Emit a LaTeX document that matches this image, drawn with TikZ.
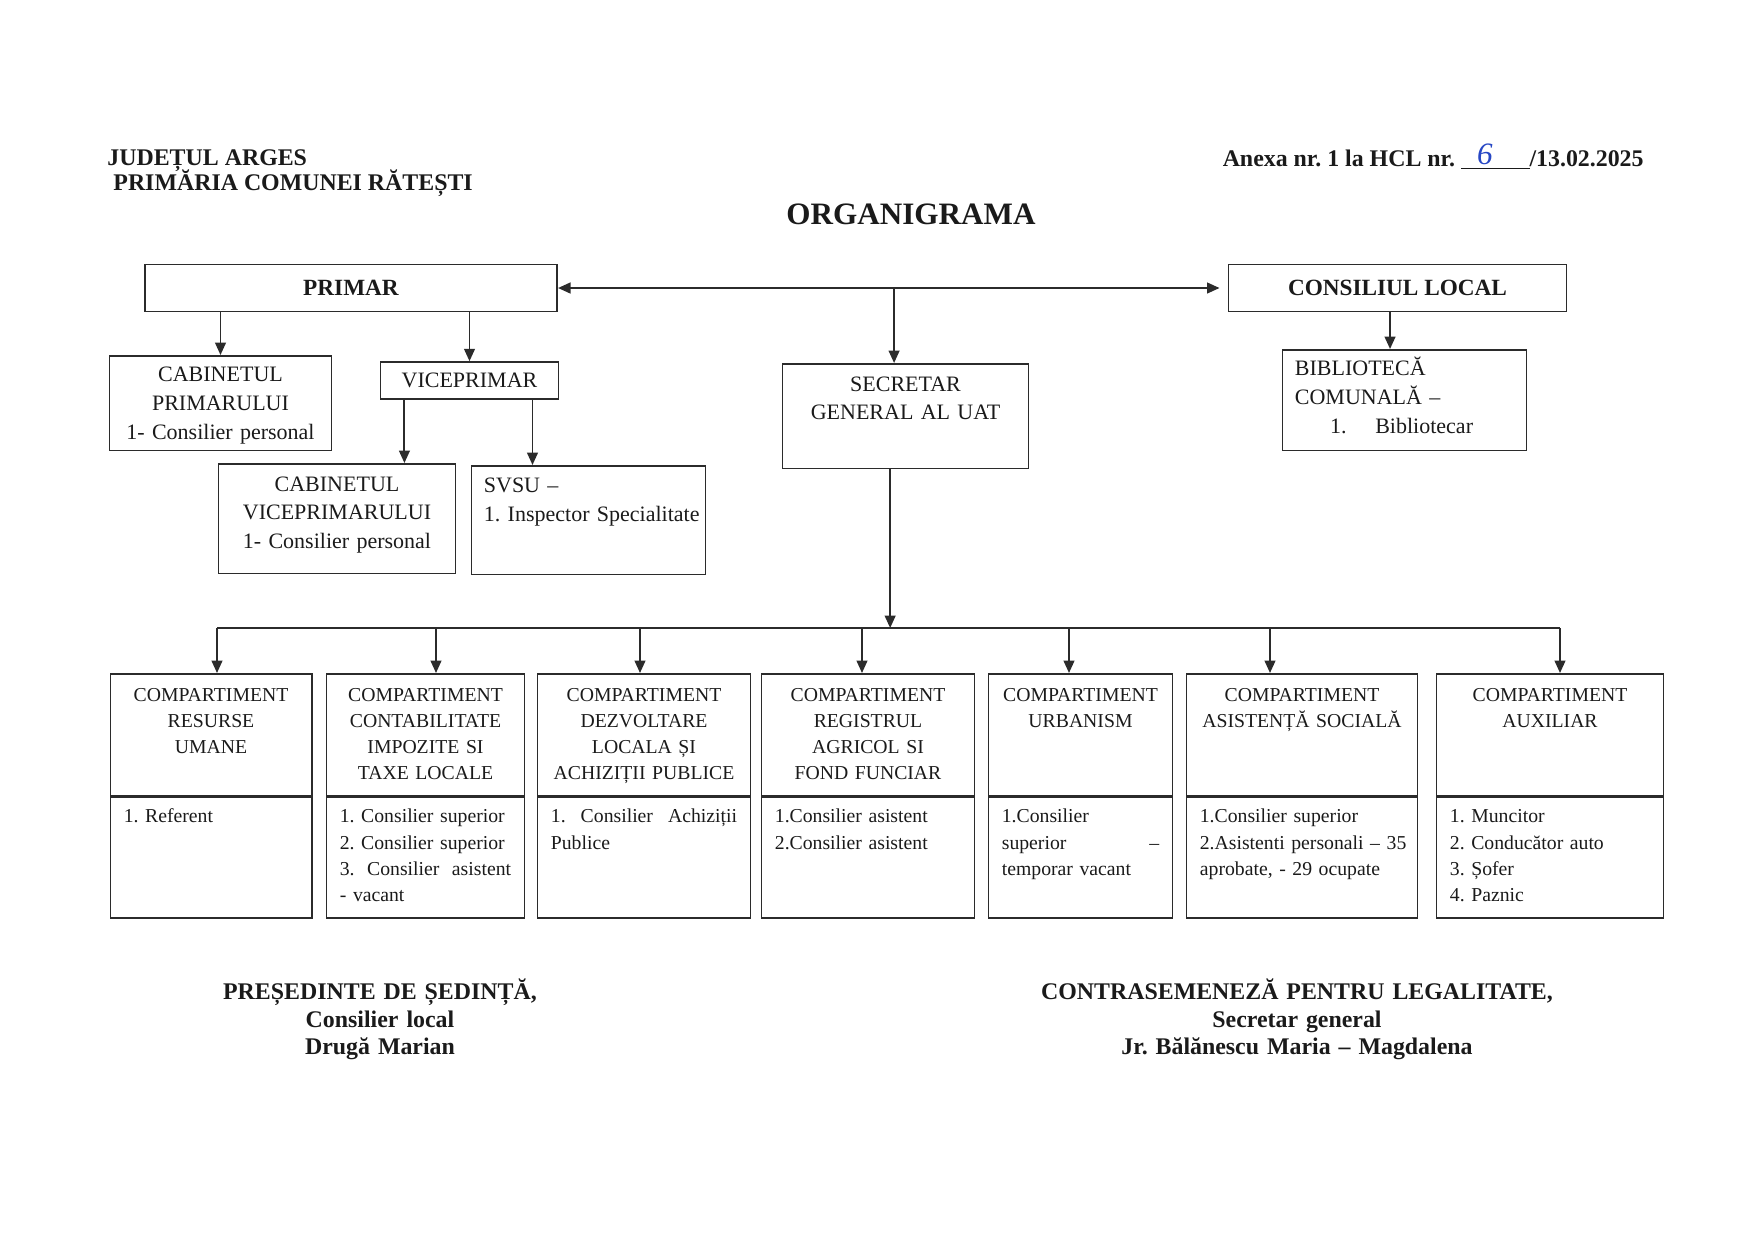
\documentclass[tikz,border=0pt]{standalone}
\usepackage{fontspec}
\setmainfont{Liberation Serif}
\usetikzlibrary{arrows.meta,positioning}
\definecolor{ink}{HTML}{1A1A1A}
\definecolor{line}{HTML}{2B2B2B}
\definecolor{pen}{HTML}{2747C4}

\begin{document}
\frenchspacing
\begin{tikzpicture}[
  x=0.16933mm, y=-0.16933mm,
  text=ink,
  >={Triangle[length=6pt,width=5.2pt]},
  box/.style={draw=line, line width=.8pt, inner xsep=6pt, inner ysep=0pt,
    font=\fontsize{10.6}{13.9}\selectfont},
  unit/.style={box, align=center},
  chief/.style={box, align=center, minimum height=22.6pt,
    font=\fontsize{11.2}{13}\selectfont\bfseries},
  comp/.style={box, inner xsep=4pt, align=center, text height=13.1pt,
    text depth=45.5pt, font=\fontsize{9.5}{12.6}\selectfont},
  staff/.style={comp, inner xsep=6.5pt, align=left, text height=12.4pt,
    text depth=45.7pt},
  arrow/.style={->, draw=line, line width=.9pt},
  link/.style={draw=line, line width=.9pt},
  head/.style={inner sep=0pt, font=\fontsize{11.5}{13.4}\selectfont\bfseries}
]
  \useasboundingbox (0,0) rectangle (1754,1240);

  % header
  \node[head, anchor=base west] (judet) at (107,165) {JUDEȚUL ARGES};
  \node[head, anchor=base west] (primaria) at (113,190) {PRIMĂRIA COMUNEI RĂTEȘTI};
  \node[head, anchor=base east] (anexa) at (1644,166)
    {Anexa nr. 1 la HCL nr. \underline{\hspace{33pt}}/13.02.2025};
  \node[inner sep=0pt, text=pen, font=\fontsize{15}{15}\selectfont\itshape,
    anchor=base] (hclnr) at (1485,164) {6};
  \node[inner sep=0pt, font=\fontsize{15}{18}\selectfont\bfseries, anchor=base]
    (title) at (911,224) {ORGANIGRAMA};

  % top level
  \node[chief, minimum width=198.7pt] (primar) at (351,288) {PRIMAR};
  \node[chief, minimum width=162.7pt] (consiliu) at (1397.5,288) {CONSILIUL LOCAL};
  \node[unit, text width=95pt, text height=12.5pt, text depth=33.1pt, anchor=north]
    (cabprim) at (220.5,355) {CABINETUL\\PRIMARULUI\\1- Consilier personal};
  \node[unit, minimum width=85.9pt, minimum height=17.8pt] (vice) at (469.5,380.5)
    {VICEPRIMAR};
  \node[unit, text width=102.2pt, text height=13.1pt, text depth=39.7pt, anchor=north]
    (cabvice) at (337,463) {CABINETUL\\VICEPRIMARULUI\\1- Consilier personal};
  \node[box, align=left, text width=100.8pt, text height=12.8pt, text depth=39.5pt,
    anchor=north] (svsu) at (588.5,465) {SVSU –\\\mbox{1. Inspector Specialitate}};
  \node[unit, text width=106.6pt, text height=13.1pt, text depth=37.3pt, anchor=north]
    (secretar) at (905.5,363) {SECRETAR\\GENERAL AL UAT};
  \node[box, align=left, text width=105.6pt, text height=12.6pt, text depth=35.9pt,
    anchor=north] (biblio) at (1404.5,349)
    {BIBLIOTECĂ\\COMUNALĂ –\\\hspace*{17pt}1.\hspace{1.3em}Bibliotecar};

  % compartments
  \node[comp, text width=89pt, anchor=north] (c1) at (211,673)
    {COMPARTIMENT\\RESURSE\\UMANE};
  \node[staff, text width=84pt, below=0pt of c1] (c1l) {1. Referent};
  \node[comp, text width=87.5pt, anchor=north] (c2) at (425.5,673)
    {COMPARTIMENT\\CONTABILITATE\\IMPOZITE SI\\TAXE LOCALE};
  \node[staff, text width=82.5pt, below=0pt of c2] (c2l)
    {1. Consilier superior\\2. Consilier superior\\3. \hfill Consilier \hfill asistent\\- vacant};
  \node[comp, text width=94.7pt, anchor=north] (c3) at (644,673)
    {COMPARTIMENT\\DEZVOLTARE\\LOCALA ȘI\\\mbox{ACHIZIȚII PUBLICE}};
  \node[staff, text width=89.7pt, below=0pt of c3] (c3l)
    {1. \hfill Consilier \hfill Achiziții\\Publice};
  \node[comp, text width=94.7pt, anchor=north] (c4) at (868,673)
    {COMPARTIMENT\\REGISTRUL\\AGRICOL SI\\FOND FUNCIAR};
  \node[staff, text width=89.7pt, below=0pt of c4] (c4l)
    {1.Consilier asistent\\2.Consilier asistent};
  \node[comp, text width=80.8pt, anchor=north] (c5) at (1080.5,673)
    {COMPARTIMENT\\URBANISM};
  \node[staff, text width=75.8pt, below=0pt of c5] (c5l)
    {1.Consilier\\superior \hfill –\\temporar vacant};
  \node[comp, text width=103.4pt, anchor=north] (c6) at (1302,673)
    {COMPARTIMENT\\\mbox{ASISTENȚĂ SOCIALĂ}};
  \node[staff, text width=98.4pt, below=0pt of c6] (c6l)
    {1.Consilier superior\\\mbox{2.Asistenti personali – 35}\\aprobate, - 29 ocupate};
  \node[comp, text width=101.4pt, anchor=north] (c7) at (1550,673)
    {COMPARTIMENT\\AUXILIAR};
  \node[staff, text width=96.4pt, below=0pt of c7] (c7l)
    {1. Muncitor\\2. Conducător auto\\3. Șofer\\4. Paznic};

  % connectors
  \coordinate (sectop) at ([xshift=-5.5pt]secretar.north);
  \coordinate (secdrop) at ([xshift=-7.4pt]secretar.south);
  \coordinate (vleft) at ([xshift=12pt]vice.south west);
  \coordinate (vright) at ([xshift=-13pt]vice.south east);
  \coordinate (cdrop) at ([xshift=-3.6pt]consiliu.south);
  \coordinate (b1) at (217,628);
  \coordinate (b2) at (436,628);
  \coordinate (b3) at (640,628);
  \coordinate (b4) at (862,628);
  \coordinate (b5) at (1069,628);
  \coordinate (b6) at (1270,628);
  \coordinate (b7) at (1560,628);

  \draw[arrow, <->, shorten >=4pt] (primar.east) -- (consiliu.west);
  \draw[arrow] (sectop |- primar.east) -- (sectop);
  \draw[arrow] (primar.south -| cabprim.north) -- (cabprim.north);
  \draw[arrow] (primar.south -| vice.north) -- (vice.north);
  \draw[arrow] (vleft) -- (vleft |- cabvice.north);
  \draw[arrow] (vright) -- (vright |- svsu.north);
  \draw[arrow] (cdrop) -- (cdrop |- biblio.north);
  \draw[arrow] (secdrop) -- (secdrop |- b1);
  \draw[link] (b1) -- (b7);
  \draw[arrow] (b1) -- (b1 |- c1.north);
  \draw[arrow] (b2) -- (b2 |- c2.north);
  \draw[arrow] (b3) -- (b3 |- c3.north);
  \draw[arrow] (b4) -- (b4 |- c4.north);
  \draw[arrow] (b5) -- (b5 |- c5.north);
  \draw[arrow] (b6) -- (b6 |- c6.north);
  \draw[arrow] (b7) -- (b7 |- c7.north);

  % signatures
  \node[head, align=center, text width=240pt, text height=7.6pt, anchor=north]
    (presedinte) at (380,983)
    {PREȘEDINTE DE ȘEDINȚĂ,\\Consilier local\\Drugă Marian};
  \node[head, align=center, text width=260pt, text height=7.6pt, anchor=north]
    (contrasemn) at (1297,983)
    {CONTRASEMENEZĂ PENTRU LEGALITATE,\\Secretar general\\Jr. Bălănescu Maria – Magdalena};
\end{tikzpicture}
\end{document}
